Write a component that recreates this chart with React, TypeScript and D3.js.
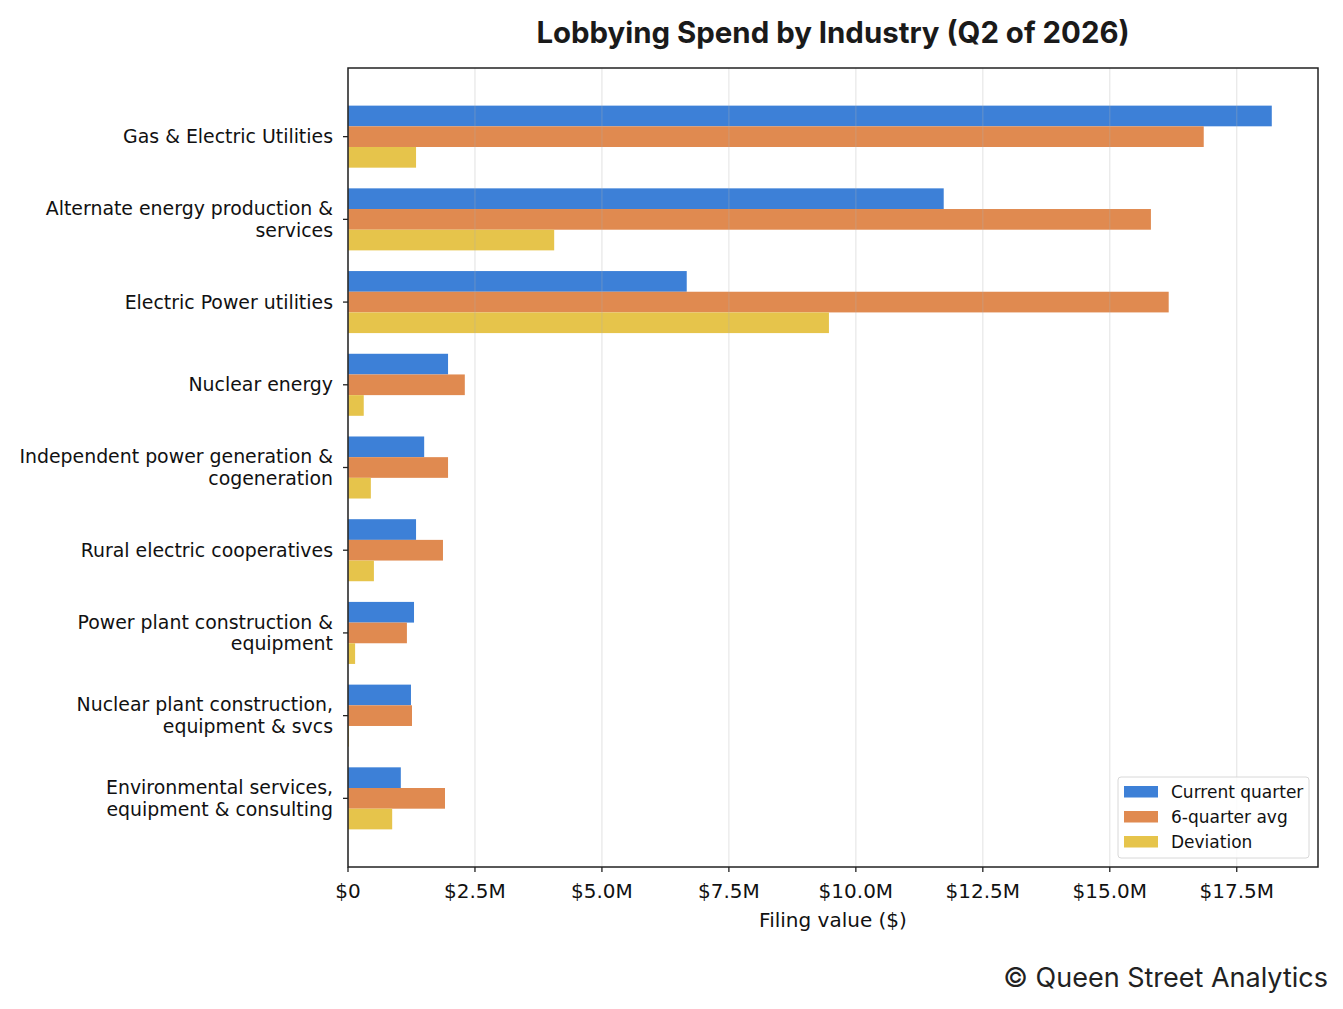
import * as React from "react";
import * as d3 from "d3";

const categories: string[][] = [
  ["Gas & Electric Utilities"],
  ["Alternate energy production &", "services"],
  ["Electric Power utilities"],
  ["Nuclear energy"],
  ["Independent power generation &", "cogeneration"],
  ["Rural electric cooperatives"],
  ["Power plant construction &", "equipment"],
  ["Nuclear plant construction,", "equipment & svcs"],
  ["Environmental services,", "equipment & consulting"],
];

// values in $M
const currentQuarter = [18.19, 11.73, 6.67, 1.97, 1.5, 1.34, 1.3, 1.24, 1.04];
const sixQuarterAvg = [16.85, 15.81, 16.16, 2.3, 1.97, 1.87, 1.16, 1.26, 1.91];
const deviation = [1.34, 4.06, 9.47, 0.31, 0.45, 0.51, 0.14, 0.02, 0.87];

const seriesNames = ["Current quarter", "6-quarter avg", "Deviation"];
const seriesColors = ["#3d80d7", "#e08a50", "#e6c44b"];
const xTicks = [0, 2.5, 5, 7.5, 10, 12.5, 15, 17.5];
const xTickLabels = ["$0", "$2.5M", "$5.0M", "$7.5M", "$10.0M", "$12.5M", "$15.0M", "$17.5M"];

const W = 1343;
const H = 1009;
const left = 348, right = 1318, top = 68, bottom = 867;

export default function App() {
  const x = d3.scaleLinear().domain([0, 19.1]).range([left, right]);
  const y = d3.scaleLinear().domain([-0.83, 8.83]).range([top, bottom]);
  const barH = 0.25;
  const series = [currentQuarter, sixQuarterAvg, deviation];
  const tickFont = "DejaVu Sans, sans-serif";

  return (
    <div style={{ position: "absolute", left: 0, top: 0 }}>
      <svg width={W} height={H} style={{ display: "block", background: "#fff" }}>
        <text x={(left + right) / 2} y={43} textAnchor="middle" fontFamily="Inter, sans-serif"
          fontWeight={700} fontSize={29.4} fill="#1a1a1a">
          Lobbying Spend by Industry (Q2 of 2026)
        </text>

        {series.map((vals, si) =>
          vals.map((v, i) => (
            <rect key={`${si}-${i}`} x={x(0)} y={y(i - 0.375 + si * barH)}
              width={x(v) - x(0)} height={y(barH) - y(0)} fill={seriesColors[si]} />
          ))
        )}

        {xTicks.map((t, i) => (
          <g key={t}>
            <line x1={x(t)} x2={x(t)} y1={top} y2={bottom} stroke="#b0b0b0" strokeOpacity={0.3} strokeWidth={1.2} />
            <line x1={x(t)} x2={x(t)} y1={bottom} y2={bottom + 5} stroke="#222" strokeWidth={1.3} />
            <text x={x(t)} y={898} textAnchor="middle" fontFamily={tickFont} fontSize={20} fill="#111">
              {xTickLabels[i]}
            </text>
          </g>
        ))}

        {categories.map((lines, i) => (
          <g key={i}>
            <line x1={left - 5} x2={left} y1={y(i)} y2={y(i)} stroke="#222" strokeWidth={1.3} />
            {lines.map((ln, j) => (
              <text key={j} x={left - 15} y={y(i) + (j - (lines.length - 1) / 2) * 21.7 + 6.5}
                textAnchor="end" fontFamily={tickFont} fontSize={18.9} fill="#111">
                {ln}
              </text>
            ))}
          </g>
        ))}

        <rect x={left} y={top} width={right - left} height={bottom - top} fill="none" stroke="#222" strokeWidth={1.5} />

        <text x={(left + right) / 2} y={927} textAnchor="middle" fontFamily={tickFont} fontSize={20} fill="#111">
          Filing value ($)
        </text>

        <g transform="translate(1118,777)">
          <rect x={0} y={0} width={191} height={81} rx={3} fill="#fff" fillOpacity={0.85} stroke="#d8d8d8" strokeWidth={1} />
          {seriesNames.map((n, i) => (
            <g key={n} transform={`translate(0,${21 + i * 25})`}>
              <rect x={6} y={-12} width={34} height={11.5} fill={seriesColors[i]} />
              <text x={53} y={0} fontFamily={tickFont} fontSize={17} fill="#111">{n}</text>
            </g>
          ))}
        </g>

        <text x={1328} y={987} textAnchor="end" fontFamily="Inter, sans-serif" fontSize={27} fill="#222">
          © Queen Street Analytics
        </text>
      </svg>
    </div>
  );
}
